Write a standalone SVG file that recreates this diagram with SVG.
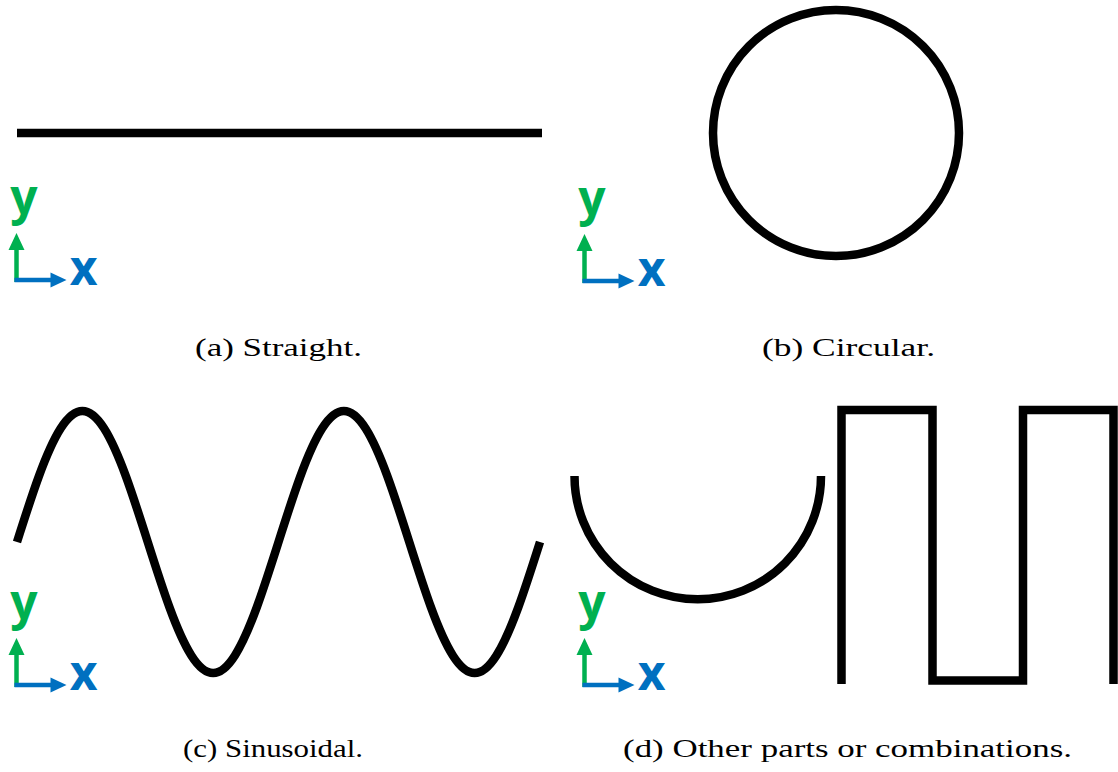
<svg xmlns="http://www.w3.org/2000/svg" width="1118" height="772" viewBox="0 0 1118 772">
<style>
.curve{fill:none;stroke:#000;stroke-width:8.5}
.cap{font-family:"Liberation Serif","DejaVu Serif",serif;font-size:26px;fill:#000;text-anchor:middle}
.ax{font-family:"Open Sans","Liberation Sans",sans-serif;font-weight:bold;font-size:48px;text-anchor:middle}
.gy{fill:#00b050}
.bx{fill:#0070c0}
</style>
<defs>
<g id="axes">
<line x1="0" y1="2" x2="0" y2="-32" stroke="#00b050" stroke-width="4.5"/>
<polygon points="0,-47 -8,-30 8,-30" fill="#00b050"/>
<line x1="-2" y1="0" x2="36" y2="0" stroke="#0070c0" stroke-width="4.5"/>
<polygon points="50,0 34,-7.5 34,7.5" fill="#0070c0"/>
<text x="7.5" y="-66" class="ax gy">y</text>
<text x="67" y="5" class="ax bx">x</text>
</g>
</defs>
<g id="panel-a">
<line class="curve" x1="17" y1="133" x2="542" y2="133"/>
<use href="#axes" x="16.5" y="280"/>
<text class="cap" x="278.5" y="356" textLength="167" lengthAdjust="spacingAndGlyphs">(a) Straight.</text>
</g>
<g id="panel-b">
<circle class="curve" cx="836" cy="133" r="123"/>
<use href="#axes" x="584.5" y="281"/>
<text class="cap" x="848.5" y="356" textLength="173" lengthAdjust="spacingAndGlyphs">(b) Circular.</text>
</g>
<g id="panel-c">
<path class="curve" d="M17,542 C24.26,519.14 31.53,496.30 38.79,476.5 S53.32,439.98 60.58,428.55 S75.12,411 82.38,411 S96.91,417.12 104.17,428.55 S118.70,456.70 125.96,476.5 S140.49,519.14 147.75,542 S162.28,587.70 169.54,607.5 S184.07,644.02 191.33,655.45 S205.87,673 213.13,673 S227.66,666.88 234.92,655.45 S249.45,627.30 256.71,607.5 S271.24,564.86 278.5,542 S293.03,496.30 300.29,476.5 S314.82,439.98 322.08,428.55 S336.62,411 343.88,411 S358.41,417.12 365.67,428.55 S380.20,456.70 387.46,476.5 S401.99,519.14 409.25,542 S423.78,587.70 431.04,607.5 S445.57,644.02 452.83,655.45 S467.37,673 474.63,673 S489.16,666.88 496.42,655.45 S510.95,627.30 518.21,607.5 S532.74,564.86 540,542"/>
<use href="#axes" x="16.5" y="685"/>
<text class="cap" x="273" y="757" textLength="180" lengthAdjust="spacingAndGlyphs">(c) Sinusoidal.</text>
</g>
<g id="panel-d">
<path class="curve" d="M574.5,476 A123,123 0 0 0 821,476"/>
<polyline class="curve" stroke-linejoin="miter" points="841.5,684 841.5,410 932.5,410 932.5,680.5 1023,680.5 1023,410 1113.5,410 1113.5,684"/>
<use href="#axes" x="584.5" y="685"/>
<text class="cap" x="847.5" y="757" textLength="449" lengthAdjust="spacingAndGlyphs">(d) Other parts or combinations.</text>
</g>
</svg>
